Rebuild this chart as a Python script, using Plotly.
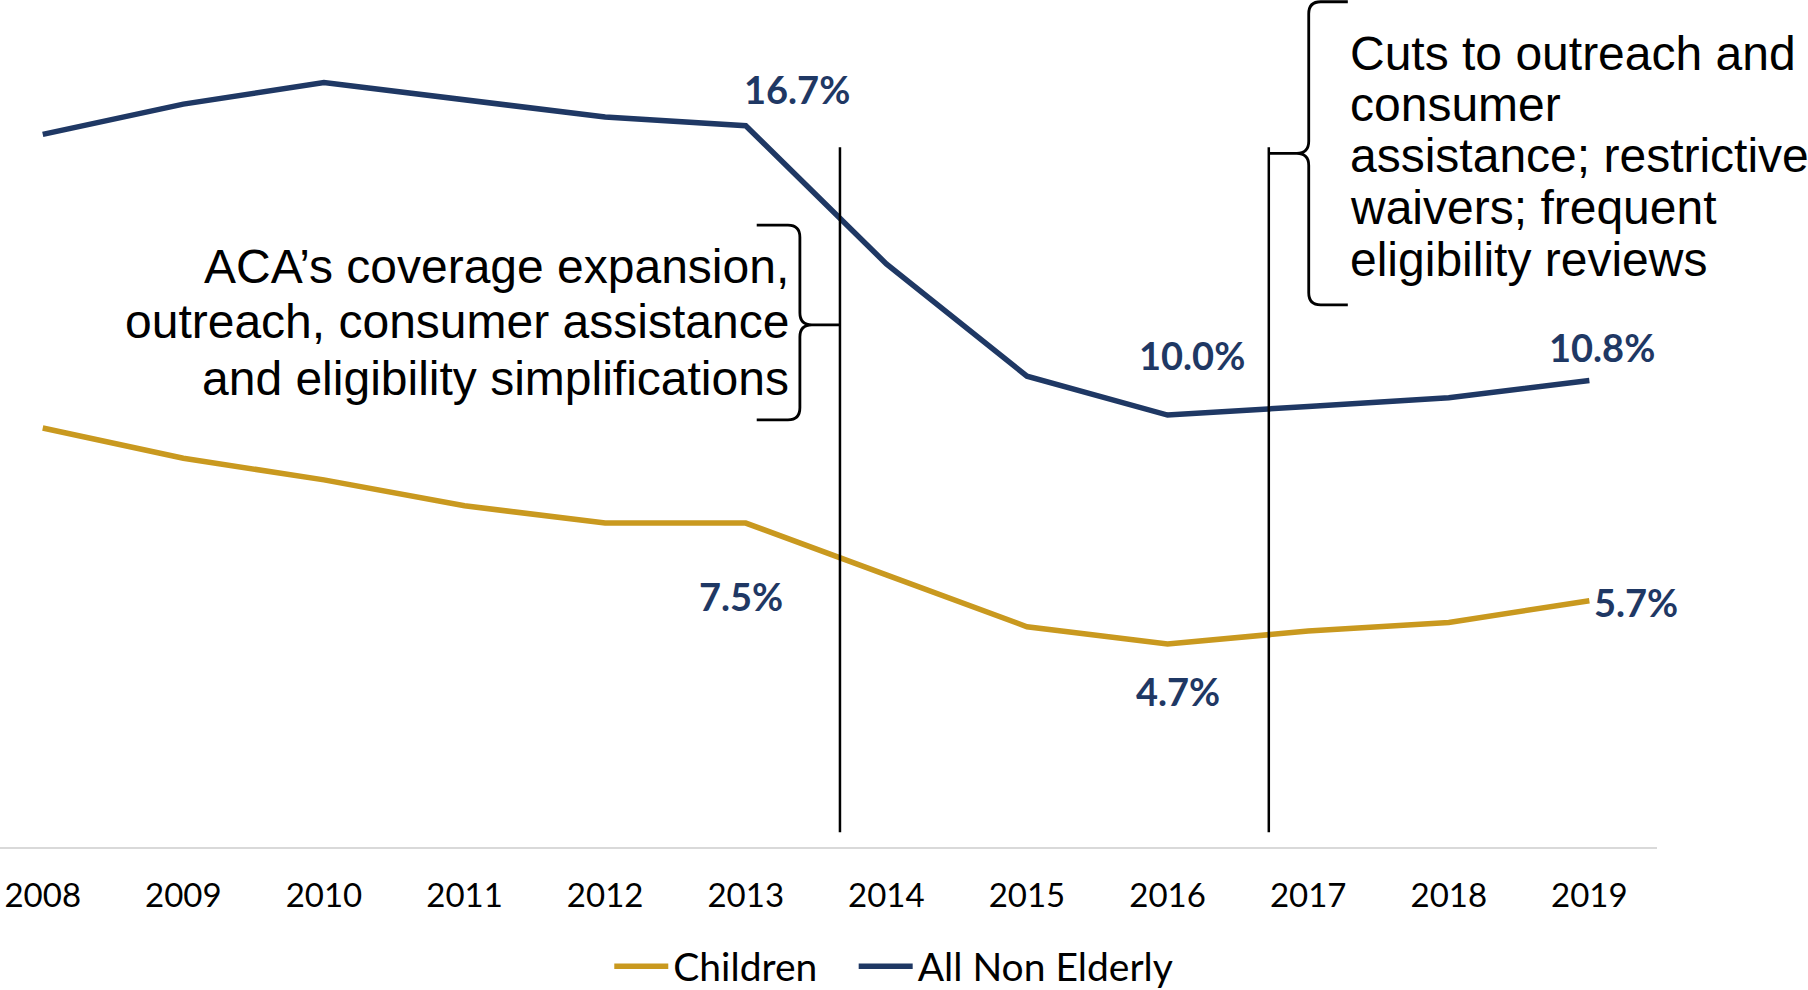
import plotly.graph_objects as go

# Uninsured rate (%) by year
years = list(range(2008, 2020))
children = [9.7, 9.0, 8.5, 7.9, 7.5, 7.5, 6.3, 5.1, 4.7, 5.0, 5.2, 5.7]
non_elderly = [16.5, 17.2, 17.7, 17.3, 16.9, 16.7, 13.5, 10.9, 10.0, 10.2, 10.4, 10.8]

series_names = ["Children", "All Non Elderly"]
series_colors = ["#C9991F", "#1F3864"]
label_color = "#1F3864"

# Policy-change markers (fractional year positions)
event_x = [2013.67, 2016.72]
event_y = [0.34, 16.2]

# Value labels: (series index, year, x shift px, y shift px)
value_labels = [
    (1, 2013, 51, 37),
    (1, 2016, 24, 60),
    (1, 2019, 13, 34),
    (0, 2013, -5, -73),
    (0, 2016, 10, -47),
    (0, 2019, 47, -1),
]

left_text = ["ACA\u2019s coverage expansion,",
             "outreach, consumer assistance",
             "and eligibility simplifications"]
right_text = ["Cuts to outreach and",
              "consumer",
              "assistance; restrictive",
              "waivers; frequent",
              "eligibility reviews"]

W, H = 1808, 990
ML, MR, MT, MB = 0, 151, 0, 143
X_RANGE = [2007.696, 2019.481]
Y_RANGE = [0, 19.61]

# One legend box per series so the entries can be spaced freely
legend_ids = ["legend", "legend2"]
legend_x = [0.3677, 0.5152]

fig = go.Figure()
for name, color, vals, lid in zip(series_names, series_colors,
                                  [children, non_elderly], legend_ids):
    fig.add_trace(go.Scatter(
        x=years, y=vals, mode="lines", name=name, legend=lid,
        line=dict(color=color, width=5.5),
        hoverinfo="skip",
    ))

all_series = [children, non_elderly]
annotations = []
for si, yr, dx, dy in value_labels:
    v = all_series[si][years.index(yr)]
    annotations.append(dict(
        x=yr, y=v, xref="x", yref="y", text=f"{v:.1f}%", showarrow=False,
        xshift=dx, yshift=dy, xanchor="center", yanchor="middle",
        font=dict(family="Lato", size=38, color=label_color, weight="bold"),
    ))

# Multi-line callout texts, one annotation per line for tight leading
text_font = dict(family="Liberation Sans, Arial", size=48, color="#000000")
left_ys = [13.44, 12.16, 10.85]
for t, yv in zip(left_text, left_ys):
    annotations.append(dict(
        x=2013.322, y=yv, xref="x", yref="y", text=t, showarrow=False,
        xanchor="right", yanchor="middle", font=text_font,
    ))
right_ys = [18.38, 17.18, 16.0, 14.80, 13.60]
for t, yv in zip(right_text, right_ys):
    annotations.append(dict(
        x=2017.28, y=yv, xref="x", yref="y", text=t, showarrow=False,
        xanchor="left", yanchor="middle", font=text_font,
    ))


def brace_path(xs, yt, yb, ym, hook, tip_to, d, rx=0.085, ry=0.28):
    """Curly brace with spine at xs; d=+1 points right, d=-1 points left."""
    pts = [
        f"M{xs - d*hook},{yt}",
        f"L{xs - d*rx},{yt}",
        f"Q{xs},{yt} {xs},{yt - ry}",
        f"L{xs},{ym + ry}",
        f"Q{xs},{ym} {xs + d*rx},{ym}",
        f"L{tip_to},{ym}",
        f"M{xs + d*rx},{ym}",
        f"Q{xs},{ym} {xs},{ym - ry}",
        f"L{xs},{yb + ry}",
        f"Q{xs},{yb} {xs - d*rx},{yb}",
        f"L{xs - d*hook},{yb}",
    ]
    return " ".join(pts)


shapes = []
for ex in event_x:
    shapes.append(dict(type="line", xref="x", yref="y", x0=ex, x1=ex,
                       y0=event_y[0], y1=event_y[1],
                       line=dict(color="#000000", width=2.5)))

shapes.append(dict(type="path", xref="x", yref="y",
                   path=brace_path(2013.385, 14.40, 9.89, 12.09, 0.307, event_x[0], 1),
                   line=dict(color="#000000", width=2.8)))
shapes.append(dict(type="path", xref="x", yref="y",
                   path=brace_path(2017.004, 19.57, 12.55, 16.06, 0.278, event_x[1], -1),
                   line=dict(color="#000000", width=2.8)))

legend_style = dict(orientation="h", y=-0.141, xanchor="left", yanchor="middle",
                    font=dict(family="Lato", size=39, color="#000000"),
                    itemwidth=54, bgcolor="rgba(0,0,0,0)")

fig.update_layout(
    width=W, height=H,
    margin=dict(l=ML, r=MR, t=MT, b=MB, pad=0, autoexpand=False),
    paper_bgcolor="#FFFFFF", plot_bgcolor="#FFFFFF",
    showlegend=True,
    legend=dict(x=legend_x[0], **legend_style),
    legend2=dict(x=legend_x[1], **legend_style),
    xaxis=dict(range=X_RANGE, tickmode="array", tickvals=years,
               ticktext=[str(y) for y in years],
               showgrid=False, zeroline=False, showline=True,
               linecolor="#D9D9D9", linewidth=2,
               ticks="outside", ticklen=18, tickcolor="rgba(0,0,0,0)",
               tickfont=dict(family="Lato", size=33, color="#000000")),
    yaxis=dict(range=Y_RANGE, visible=False, showgrid=False, zeroline=False),
    annotations=annotations,
    shapes=shapes,
)

fig.write_html("out.html")
